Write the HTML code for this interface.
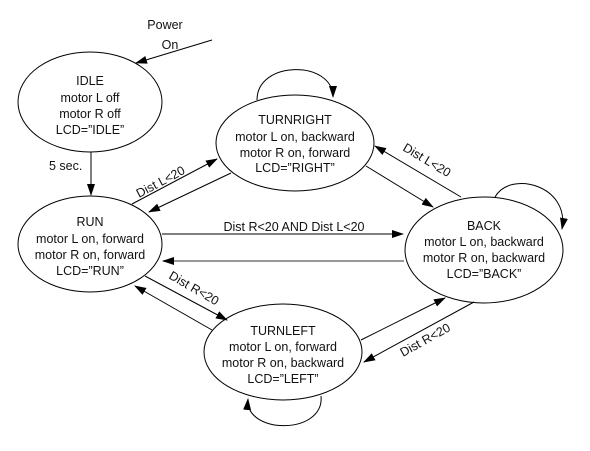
<!DOCTYPE html>
<html><head><style>body{margin:0;background:#fff}svg{display:block}text{font-family:"Liberation Sans",sans-serif;font-size:12.5px;fill:#111}</style></head>
<body>
<svg width="590" height="451" viewBox="0 0 590 451" xmlns="http://www.w3.org/2000/svg">
<defs><marker id="a" markerWidth="12" markerHeight="10" refX="11" refY="4" orient="auto" markerUnits="userSpaceOnUse"><path d="M0,0 L12,4 L0,8 Z" fill="#000"/></marker></defs>
<g fill="none" stroke="#000" stroke-width="1">
<ellipse cx="90" cy="102" rx="72" ry="50"/>
<ellipse cx="295" cy="143" rx="79" ry="48"/>
<ellipse cx="90" cy="244" rx="72" ry="48"/>
<ellipse cx="484" cy="250" rx="79" ry="53"/>
<ellipse cx="283" cy="352" rx="79" ry="48"/>
<line x1="212" y1="40" x2="136" y2="63" marker-end="url(#a)"/>
<line x1="91" y1="152" x2="91" y2="195" marker-end="url(#a)"/>
<line x1="132" y1="204" x2="217" y2="159" marker-end="url(#a)"/>
<line x1="231" y1="173" x2="149" y2="212" marker-end="url(#a)"/>
<line x1="162" y1="234" x2="403" y2="234" marker-end="url(#a)"/>
<line x1="404" y1="261" x2="163" y2="261" stroke="#777" stroke-width="1.5" marker-end="url(#a)"/>
<line x1="145" y1="276" x2="227" y2="320" marker-end="url(#a)"/>
<line x1="212" y1="330" x2="135" y2="286" marker-end="url(#a)"/>
<line x1="361" y1="340" x2="445" y2="298" marker-end="url(#a)"/>
<line x1="474" y1="302" x2="364" y2="362" marker-end="url(#a)"/>
<line x1="366" y1="166" x2="433" y2="207" marker-end="url(#a)"/>
<line x1="461" y1="197" x2="375" y2="146" marker-end="url(#a)"/>
<path d="M257,100 C257,60 333,60 333,97" marker-end="url(#a)"/>
<path d="M495,197 C510,170 570,185 562,229" marker-end="url(#a)"/>
<path d="M321,396 C325,435 245,435 248,399" marker-end="url(#a)"/>
</g>
<g text-anchor="middle">
<text x="165" y="29" font-size="14">Power</text>
<text x="170" y="49" font-size="14">On</text>
<text x="90" y="85">IDLE</text><text x="90" y="102">motor L off</text><text x="90" y="118">motor R off</text><text x="90" y="134">LCD=”IDLE”</text>
<text x="295" y="124">TURNRIGHT</text><text x="295" y="141">motor L on, backward</text><text x="295" y="157">motor R on, forward</text><text x="295" y="172">LCD=”RIGHT”</text>
<text x="90" y="226">RUN</text><text x="90" y="243">motor L on, forward</text><text x="90" y="259">motor R on, forward</text><text x="90" y="275">LCD=”RUN”</text>
<text x="484" y="230">BACK</text><text x="484" y="246">motor L on, backward</text><text x="484" y="262">motor R on, backward</text><text x="484" y="278">LCD=”BACK”</text>
<text x="283" y="335">TURNLEFT</text><text x="283" y="351">motor L on, forward</text><text x="283" y="367">motor R on, backward</text><text x="283" y="383">LCD=”LEFT”</text>
<text x="294" y="231" font-size="15">Dist R&lt;20 AND Dist L&lt;20</text>
</g>
<text x="49" y="170" font-size="14">5 sec.</text>
<text x="0" y="0" font-size="14" transform="translate(139,198) rotate(-28)">Dist L&lt;20</text>
<text x="0" y="0" font-size="14" transform="translate(402,150) rotate(31)">Dist L&lt;20</text>
<text x="0" y="0" font-size="14" transform="translate(168,278) rotate(30)">Dist R&lt;20</text>
<text x="0" y="0" font-size="14" transform="translate(403,357) rotate(-29)">Dist R&lt;20</text>
</svg>
</body></html>
